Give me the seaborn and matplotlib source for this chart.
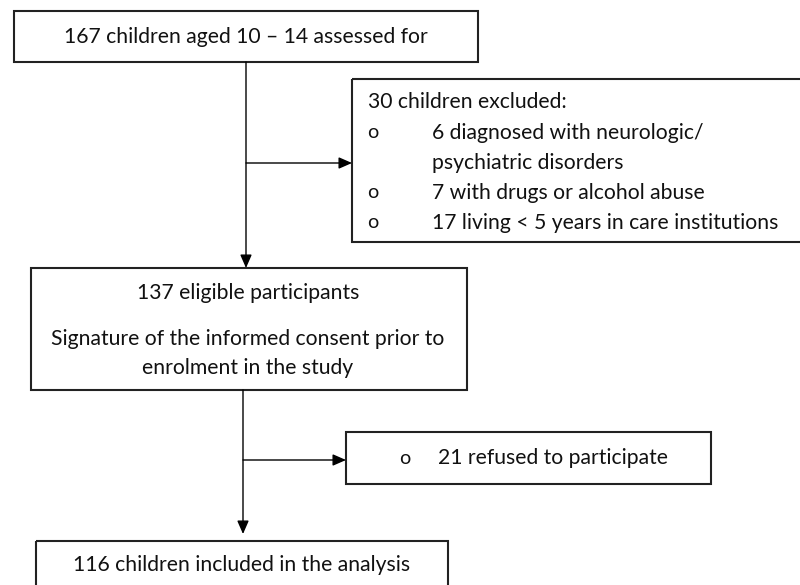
import matplotlib.pyplot as plt
import seaborn as sns
from matplotlib.patches import Rectangle

# Flowchart texts
box_top = ["167 children aged 10 – 14 assessed for"]
box_excluded_head = "30 children excluded:"
excluded_items = ["6 diagnosed with neurologic/\npsychiatric disorders",
                  "7 with drugs or alcohol abuse",
                  "17 living < 5 years in care institutions"]
box_eligible = ["137 eligible participants",
                "Signature of the informed consent prior to\nenrolment in the study"]
refused_items = ["21 refused to participate"]
box_final = ["116 children included in the analysis"]

sns.set_style("white")
plt.rcParams['font.family'] = ['Lato', 'DejaVu Sans']

W, H = 800, 585
fig = plt.figure(figsize=(8, 5.85), dpi=100)
ax = fig.add_axes([0, 0, 1, 1])
ax.set_xlim(0, W)
ax.set_ylim(H, 0)
ax.axis('off')

FS = 15.2
TXT = '#111111'
LINE_SP = 30


def box(x0, y0, x1, y1):
    ax.add_patch(Rectangle((x0, y0), x1 - x0, y1 - y0, fill=False,
                           edgecolor='#222222', lw=1.5))


def arrow(x0, y0, x1, y1):
    ax.annotate('', xy=(x1, y1), xytext=(x0, y0),
                arrowprops=dict(arrowstyle='-|>,head_length=0.8,head_width=0.35',
                                color='black', lw=1.0, shrinkA=0, shrinkB=0))


# top box
box(14, 11, 478, 62)
ax.text(246, 37, box_top[0], ha='center', va='center', fontsize=FS, color=TXT)

# excluded box
box(352, 79, 802, 242)
ax.text(368, 102, box_excluded_head, ha='left', va='center', fontsize=FS, color=TXT)
y = 133
for item in excluded_items:
    ax.text(373, y, 'o', ha='center', va='center', fontsize=FS - 1, color=TXT)
    for ln in item.split('\n'):
        ax.text(432, y, ln, ha='left', va='center', fontsize=FS, color=TXT)
        y += LINE_SP

# eligible box
box(31, 268, 467, 390)
ax.text(248, 293, box_eligible[0], ha='center', va='center', fontsize=FS, color=TXT)
y = 339
for ln in box_eligible[1].split('\n'):
    ax.text(248, y, ln, ha='center', va='center', fontsize=FS, color=TXT)
    y += LINE_SP - 1

# refused box
box(346, 432, 711, 484)
ax.text(405, 459, 'o', ha='center', va='center', fontsize=FS - 1, color=TXT)
ax.text(438, 458, refused_items[0], ha='left', va='center', fontsize=FS, color=TXT)

# final box (runs off the bottom edge)
box(36, 541, 448, 600)
ax.text(242, 565, box_final[0], ha='center', va='center', fontsize=FS, color=TXT)

# connectors
arrow(246, 62, 246, 268)
arrow(246, 163, 352, 163)
arrow(243, 390, 243, 534)
arrow(243, 460, 346, 460)

fig.savefig('out.png', dpi=100, facecolor='white')
